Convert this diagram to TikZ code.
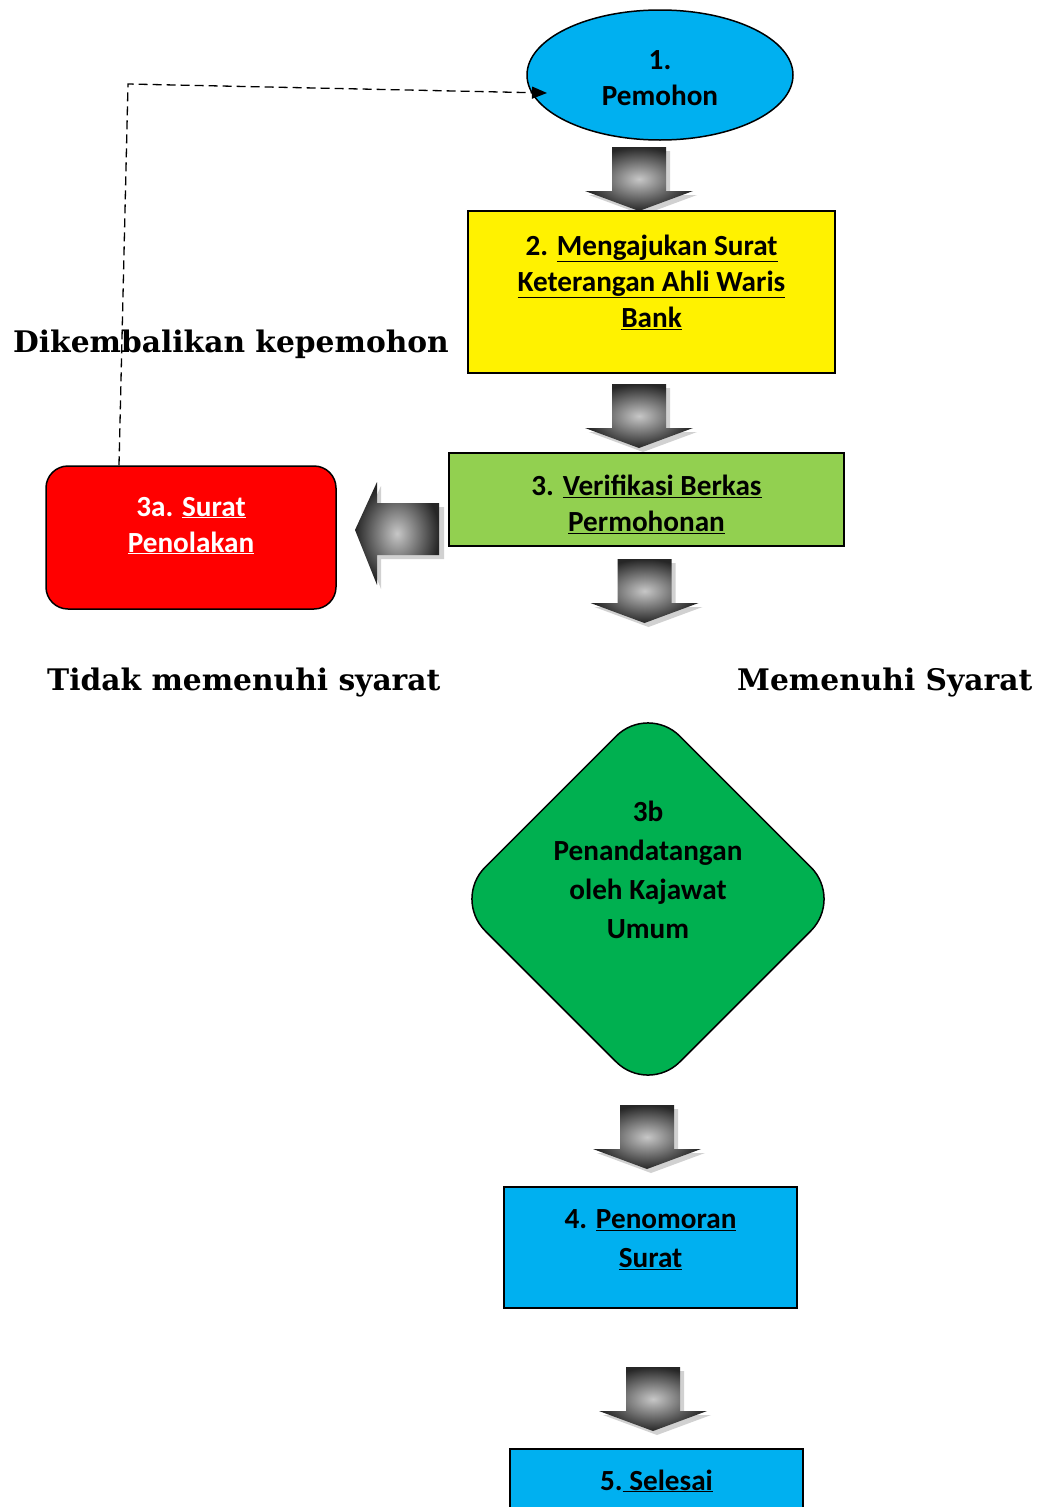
\documentclass[tikz,border=0pt]{standalone}
\usepackage{fontspec}
\setmainfont{Carlito}
\newfontfamily\labfont{DejaVu Serif}
\usetikzlibrary{positioning,shapes.geometric,arrows.meta}
\definecolor{skyblue}{HTML}{00B0F0}
\definecolor{lime}{HTML}{92D050}
\definecolor{dgreen}{HTML}{00B050}
\newcommand\boxfont{\bfseries\fontsize{29.2}{36}\selectfont}
\newcommand\lowpad[1]{\rule[-#1]{0pt}{0pt}}

\begin{document}
\begin{tikzpicture}[x=1pt, y=-1pt,
  bx/.style={draw, line width=1.5pt, align=center, font=\boxfont, inner sep=4pt},
  lab/.style={font=\labfont\bfseries\fontsize{29.7}{34}\selectfont, anchor=base west, inner sep=0pt},
  dsh/.style={-{Triangle[length=15pt,width=12pt]}, line width=1.3pt, dash pattern=on 9pt off 5pt},
  downarr/.pic={
    \fill[black!18] (-23,4) -- (31,4) -- (31,48) -- (58,48) -- (4,68) -- (-50,48) -- (-23,48) -- cycle;
    \shade[shading=radial, inner color=black!22, outer color=black!85]
      (-27,0) -- (27,0) -- (27,44) -- (54,44) -- (0,64) -- (-54,44) -- (-27,44) -- cycle;},
  leftarr/.pic={
    \fill[black!18] (4,4) -- (26,-44) -- (26,-23) -- (89,-23) -- (89,29) -- (26,29) -- (26,59) -- cycle;
    \shade[shading=radial, inner color=black!22, outer color=black!85]
      (0,0) -- (22,-48) -- (22,-27) -- (84,-27) -- (84,25) -- (22,25) -- (22,55) -- cycle;}]

\clip (0,0) rectangle (1049,1507);

% ---- main column -------------------------------------------------------
\node[bx, ellipse, fill=skyblue, minimum width=266pt, minimum height=130pt] (pemohon) at (660,75) {\rule{0pt}{26pt}1.\\ Pemohon};
\pic (a1) at (639,147) {downarr};
\node[bx, fill=yellow, minimum width=367pt, minimum height=162pt] (ajukan) at (651.5,292)
  {2. \underline{Mengajukan Surat}\\ \underline{Keterangan Ahli Waris}\\ \underline{Bank}\lowpad{22pt}};
\pic (a2) at (639,384) {downarr};
\node[bx, fill=lime, minimum width=395pt, minimum height=93pt] (verif) at (646.5,499.5)
  {\rule{0pt}{30pt}3. \underline{Verifikasi Berkas}\\ \underline{Permohonan}};
\pic (a3) at (644.5,559) {downarr};

% ---- rejected ------------------------------------------------------------
\node[bx, fill=red, text=white, rounded corners=22pt, minimum width=290pt, minimum height=143pt] (tolak) at (191,537.5)
  {3a. \underline{Surat}\\ \underline{Penolakan}\lowpad{26pt}};
\pic (a3a) at (355,530) {leftarr};
\coordinate (back) at (547,93);
\draw[dsh] ([xshift=-72pt]tolak.north) -- (128,84) -- (back);
\node[lab] (kembali) at (13,352) {Dikembalikan kepemohon};
\node[lab] (tidak) at (47,690) {Tidak memenuhi syarat};
\node[lab] (memenuhi) at (737,690) {Memenuhi Syarat};

% ---- accepted ------------------------------------------------------------
\node[draw, line width=1.5pt, diamond, aspect=1, fill=dgreen, rounded corners=45pt,
      minimum width=390pt, minimum height=390pt, inner sep=0pt] (ttd) at (648,899) {};
\node[align=center, font=\bfseries\fontsize{29.2}{39}\selectfont] (ttdtext) at (648,870)
  {3b\\ Penandatangan\\ oleh Kajawat\\ Umum};
\pic (a4) at (647,1105) {downarr};
\node[bx, fill=skyblue, minimum width=293pt, minimum height=121pt] (nomor) at (650.5,1247.5)
  {4. \underline{Penomoran}\\[3pt] \underline{Surat}\lowpad{17pt}};
\pic (a5) at (653,1367) {downarr};
\node[bx, fill=skyblue, minimum width=293pt, inner ysep=0pt, text height=41pt, text depth=70pt, anchor=base] (selesai)
  at (656.5,1490) {5.\underline{ Selesai}};

\end{tikzpicture}
\end{document}
